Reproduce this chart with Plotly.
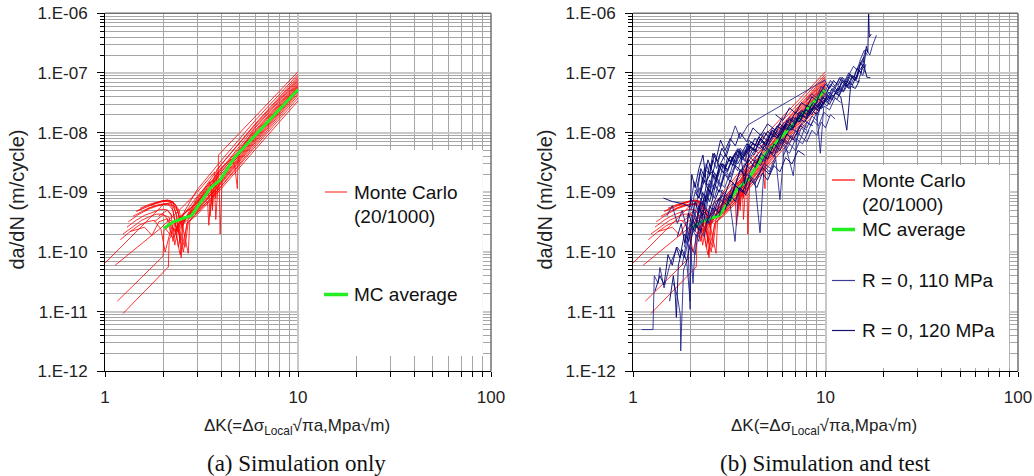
import plotly.graph_objects as go

# ---------------- data ----------------
x_tick_vals = [1, 10, 100]
x_tick_text = ["1", "10", "100"]
y_tick_vals = [1e-12, 1e-11, 1e-10, 1e-9, 1e-8, 1e-7, 1e-6]
y_tick_text = ["1.E-12", "1.E-11", "1.E-10", "1.E-09", "1.E-08", "1.E-07", "1.E-06"]

mc_dk = [
    [1.45, 1.65, 1.85, 2.05, 2.2, 2.32, 2.45, 3.0, 3.6, 3.85, 3.87, 6.0, 10.0],
    [1.0, 2.0, 2.2, 2.35, 2.6, 3.0, 4.0, 6.0, 10.0],
    [1.13, 1.97, 2.15, 2.5, 3.0, 3.7, 3.75, 3.8, 6.0, 10.0],
    [1.46, 1.62, 1.8, 1.98, 2.12, 2.25, 2.33, 2.4, 2.7, 3.0, 4.0, 6.0, 10.0],
    [1.32, 1.5, 1.7, 1.9, 2.1, 2.25, 2.35, 2.45, 2.55, 3.0, 3.5, 3.6, 3.65, 6.0, 10.0],
    [1.52, 1.7, 1.9, 2.1, 2.25, 2.35, 2.5, 3.0, 4.0, 4.5, 4.7, 4.85, 4.9, 6.0, 10.0],
    [1.16, 2.0, 2.02, 2.3, 2.6, 3.0, 4.0, 6.0, 10.0],
    [1.24, 2.13, 2.15, 2.3, 2.45, 2.7, 3.0, 4.0, 6.0, 10.0],
    [1.2, 1.35, 1.5, 1.65, 1.8, 1.95, 2.05, 2.2, 2.5, 3.0, 4.0, 6.0, 10.0],
    [1.24, 1.4, 1.55, 1.7, 1.85, 2.0, 2.1, 2.2, 2.35, 3.0, 3.55, 3.6, 3.7, 6.0, 10.0],
    [1.3, 1.45, 1.6, 1.8, 1.95, 2.1, 2.2, 2.3, 2.4, 3.0, 3.9, 3.95, 4.05, 6.0, 10.0],
    [1.4, 1.55, 1.7, 1.85, 2.0, 2.15, 2.25, 2.35, 2.6, 3.0, 4.0, 6.0, 10.0],
    [1.6, 1.75, 1.9, 2.05, 2.2, 2.32, 2.4, 2.48, 2.55, 3.0, 3.45, 3.5, 3.6, 6.0, 10.0],
    [1.7, 1.85, 2.0, 2.15, 2.3, 2.42, 2.5, 2.7, 2.75, 3.0, 4.0, 6.0, 10.0],
    [1.8, 2.0, 2.15, 2.25, 2.4, 3.0, 3.7, 3.75, 3.85, 6.0, 10.0],
    [1.35, 1.6, 1.75, 1.9, 2.1, 2.3, 2.6, 3.0, 4.0, 6.0, 10.0],
    [1.9, 2.1, 2.3, 2.4, 2.5, 3.0, 4.0, 6.0, 10.0],
    [2.05, 2.25, 2.4, 3.0, 3.4, 3.45, 3.55, 6.0, 10.0],
    [2.15, 2.3, 2.6, 2.7, 3.0, 4.0, 6.0, 10.0],
    [2.2, 2.4, 2.55, 2.65, 3.0, 4.0, 6.0, 10.0],
]
mc_rate = [
    [4.8e-10, 5.9e-10, 6.7e-10, 7.2e-10, 7.1e-10, 6.2e-10, 3.5e-10, 8.5e-10, 1.6e-9, 1.1e-9, 4.2e-9, 1.85e-8, 1.05e-7],
    [6.5e-11, 6.2e-10, 6.8e-10, 2.5e-10, 5e-10, 1.1e-9, 3.4e-9, 1.6e-8, 9.5e-8],
    [6e-11, 2.6e-10, 3.5e-10, 5.5e-10, 1.0e-9, 2.2e-9, 8e-10, 2.4e-9, 1.4e-8, 8.8e-8],
    [4.8e-10, 5.6e-10, 6.4e-10, 7.2e-10, 7.4e-10, 6.8e-10, 4.5e-10, 2.2e-10, 4.5e-10, 8e-10, 2.9e-9, 1.35e-8, 8.2e-8],
    [3.2e-10, 4.3e-10, 5.3e-10, 6.0e-10, 6.4e-10, 5.9e-10, 4.2e-10, 1.4e-10, 3e-10, 7.5e-10, 1.5e-9, 6e-10, 1.7e-9, 1.25e-8, 7.8e-8],
    [5.4e-10, 6.3e-10, 7.0e-10, 7.4e-10, 7.0e-10, 5.5e-10, 2.8e-10, 7e-10, 2.6e-9, 3.6e-9, 2.8e-9, 1.15e-9, 4.6e-9, 1.2e-8, 7.4e-8],
    [1.5e-11, 8.5e-11, 2.3e-10, 3.2e-10, 4.5e-10, 6.8e-10, 2.4e-9, 1.1e-8, 7.0e-8],
    [9.3e-12, 5.6e-11, 1.6e-10, 2.5e-10, 9e-11, 3.5e-10, 6.2e-10, 2.2e-9, 1.05e-8, 6.7e-8],
    [1.6e-10, 2.2e-10, 2.8e-10, 3.2e-10, 3.4e-10, 2.4e-10, 1.0e-10, 2.5e-10, 4.2e-10, 6.5e-10, 2.2e-9, 1.0e-8, 6.4e-8],
    [2.0e-10, 2.7e-10, 3.4e-10, 3.9e-10, 4.3e-10, 4.3e-10, 3.6e-10, 2.0e-10, 3.3e-10, 6.8e-10, 1.3e-9, 5e-10, 1.5e-9, 9.5e-9, 6.1e-8],
    [2.6e-10, 3.4e-10, 4.1e-10, 4.8e-10, 5.2e-10, 5.1e-10, 4.3e-10, 1.3e-10, 2.8e-10, 6.2e-10, 1.7e-9, 2e-10, 1.9e-9, 9e-9, 5.9e-8],
    [4.0e-10, 4.8e-10, 5.5e-10, 6.0e-10, 6.3e-10, 6.1e-10, 5.0e-10, 2.3e-10, 3.6e-10, 6.0e-10, 1.8e-9, 8.8e-9, 5.7e-8],
    [5.0e-10, 5.7e-10, 6.2e-10, 6.5e-10, 6.4e-10, 5.6e-10, 4.5e-10, 8e-11, 3.2e-10, 5.8e-10, 1.0e-9, 4e-10, 1.1e-9, 8.4e-9, 5.5e-8],
    [6.0e-10, 6.6e-10, 7.0e-10, 7.0e-10, 6.4e-10, 5.0e-10, 3e-10, 9.5e-11, 3.3e-10, 5.5e-10, 1.6e-9, 8e-9, 5.2e-8],
    [3.2e-10, 4.2e-10, 3.8e-10, 1.5e-10, 3e-10, 5.2e-10, 1.1e-9, 3.5e-10, 1.3e-9, 7.6e-9, 5.0e-8],
    [2.2e-10, 2.6e-10, 1.9e-10, 3.2e-10, 3.6e-10, 2.2e-10, 3.8e-10, 5.0e-10, 1.45e-9, 7.2e-9, 4.8e-8],
    [4e-10, 5e-10, 3.5e-10, 1.2e-10, 2.8e-10, 4.8e-10, 1.4e-9, 6.8e-9, 4.5e-8],
    [2.5e-10, 1.7e-10, 3.0e-10, 4.6e-10, 7e-10, 2.8e-10, 8e-10, 6.3e-9, 4.2e-8],
    [3.5e-10, 3.0e-10, 1.2e-10, 3.2e-10, 4.5e-10, 1.25e-9, 5.8e-9, 3.8e-8],
    [2.5e-10, 2.2e-10, 1.0e-10, 3e-10, 4.2e-10, 1.15e-9, 5.2e-9, 3.4e-8],
]

avg_dk = [2.02, 2.26, 2.5, 2.81, 3.1, 3.5, 3.94, 4.72, 6.0, 8.0, 10.0]
avg_rate = [2.5e-10, 3.2e-10, 3.6e-10, 4.1e-10, 6.5e-10, 1.16e-9, 1.6e-9, 3.9e-9, 9.0e-9, 2.45e-8, 5.3e-8]

t110_dk = [
    [1.11, 1.15, 1.27, 1.29, 1.35, 1.38, 1.45, 1.55, 1.7, 1.85, 2.0, 2.15, 2.3, 2.5, 2.7, 3.0],
    [1.62, 1.7, 1.76, 1.77, 1.83, 1.9, 1.98, 2.0, 2.1, 2.2, 2.35, 2.5, 2.7, 2.9, 3.2, 3.5],
    [1.8, 1.9, 2.0, 2.05, 2.12, 2.2, 2.3, 2.45, 2.6, 2.75, 2.9, 3.1, 3.3, 3.6, 3.9, 4.3, 4.8, 5.2],
    [2.0, 2.1, 2.2, 2.35, 2.5, 2.6, 2.75, 2.9, 3.1, 3.3, 3.5, 3.8, 4.1, 4.5, 4.9, 5.4, 6.0, 6.6, 7.2],
    [3.0, 3.4, 3.6, 3.96, 9.9, 10.3],
    [2.8, 3.0, 3.2, 3.39, 3.55, 3.8, 4.0, 4.3, 4.57, 4.8, 5.1, 5.5, 5.8, 6.1, 6.5, 7.0, 7.6, 8.2],
    [4.0, 4.3, 4.6, 5.0, 5.4, 5.8, 6.2, 6.8, 7.2, 7.8, 8.4, 9.0, 9.4, 9.8, 10.5, 11.2, 12.0],
    [6.0, 6.5, 7.0, 7.5, 8.0, 8.6, 9.2, 9.8, 10.4, 11.0, 11.7, 12.4, 13.2, 14.0, 14.8, 15.5, 16.2],
    [10.0, 10.6, 11.2, 11.8, 12.5, 13.2, 14.0, 14.8, 15.5, 16.2, 17.0, 17.5, 18.4],
    [7.0, 7.5, 8.0, 8.5, 9.0, 9.35, 9.7, 10.2, 10.8, 11.5, 12.0],
    [1.85, 1.92, 1.98, 2.0, 2.08, 2.15, 2.25, 2.35, 2.5, 2.65, 2.8, 3.0, 3.2],
    [1.5, 1.6, 1.7, 1.8, 1.9, 2.0, 2.1, 2.2, 2.35, 2.5, 2.65, 2.8],
    [3.5, 3.8, 4.1, 4.4, 4.8, 5.2, 5.6, 6.0, 6.5, 7.0, 7.5, 8.0, 8.6],
    [8.0, 8.5, 9.0, 9.5, 10.0, 10.6, 11.2, 11.9, 12.6, 13.3, 14.0, 14.6, 15.2, 15.9, 16.5],
    [2.2, 2.3, 2.4, 2.5, 2.6, 2.7, 2.85, 3.0, 3.15, 3.3, 3.5, 3.7, 3.9, 4.2, 4.5],
    [2.5, 2.65, 2.8, 2.95, 3.1, 3.25, 3.4, 3.6, 3.8, 4.0, 4.25, 4.5, 4.8, 5.1],
    [4.8, 5.1, 5.4, 5.8, 6.2, 6.6, 7.0, 7.5, 8.0, 8.6, 9.2, 9.8, 10.5],
    [2.0, 2.08, 2.16, 2.24, 2.32, 2.4, 2.5, 2.6, 2.72, 2.85, 3.0],
    [5.8, 6.2, 6.6, 7.0, 7.4, 7.9, 8.4, 9.0, 9.6, 10.2, 10.9, 11.6, 12.4, 13.2, 14.0],
    [3.0, 3.2, 3.4, 3.6, 3.8, 4.0, 4.3, 4.6, 4.9, 5.3, 5.7, 6.1],
    [12.0, 12.6, 13.2, 13.8, 14.4, 15.0, 15.6, 16.2],
    [1.95, 2.05, 2.15, 2.25, 2.35, 2.45, 2.55, 2.7, 2.85, 3.0, 3.2, 3.4],
    [6.0, 6.5, 7.0, 7.5, 8.0, 8.5, 9.0, 9.5, 10.0, 10.6, 11.2],
]
t110_rate = [
    [5e-12, 5e-12, 5e-12, 4e-11, 3e-11, 5.5e-11, 2.5e-11, 6e-11, 1.2e-10, 8e-11, 2.5e-10, 1.8e-10, 4.5e-10, 3e-10, 7e-10, 9e-10],
    [3e-11, 1.8e-11, 9e-12, 2.2e-12, 5e-11, 7e-11, 1.5e-11, 1.2e-10, 9e-11, 2.5e-10, 1.8e-10, 6e-10, 4e-10, 1.1e-9, 8e-10, 1.8e-9],
    [6e-11, 1.5e-10, 1e-10, 3e-11, 2e-10, 1.5e-10, 4e-10, 3e-10, 6e-10, 5e-10, 9e-10, 7e-10, 1.4e-9, 1.1e-9, 2e-9, 1.6e-9, 3e-9, 2.5e-9],
    [5e-10, 1e-9, 8e-10, 1.6e-9, 1.2e-9, 2.3e-9, 1.8e-9, 3e-9, 2.2e-9, 3.8e-9, 3e-9, 5e-9, 4e-9, 6.5e-9, 5e-9, 9e-9, 7e-9, 1.2e-8, 1e-8],
    [4e-9, 1.3e-8, 8e-9, 1.35e-8, 7.6e-8, 6e-8],
    [4e-10, 8e-10, 6e-10, 1.5e-10, 1.2e-9, 1e-9, 2e-9, 1.5e-9, 2.1e-10, 2.8e-9, 2.2e-9, 4e-9, 7.5e-10, 5.5e-9, 4.5e-9, 8e-9, 6.5e-9, 1.1e-8],
    [2e-9, 3.5e-9, 2.8e-9, 5e-9, 4e-9, 7.5e-9, 6e-9, 1.9e-9, 1.2e-8, 1.6e-8, 1.3e-8, 2.2e-8, 4.5e-9, 2.8e-8, 2.4e-8, 3.8e-8, 3.2e-8],
    [1.2e-8, 1.8e-8, 1.5e-8, 2.4e-8, 2e-8, 3.2e-8, 2.7e-8, 4.2e-8, 3.6e-8, 5.5e-8, 4.6e-8, 6.5e-8, 5.5e-8, 8e-8, 7e-8, 1.2e-7, 1e-7],
    [4e-8, 6.5e-8, 5.5e-8, 8e-8, 7e-8, 1e-7, 8.5e-8, 1.3e-7, 1.5e-7, 2.5e-7, 2e-7, 2.8e-7, 4.3e-7],
    [9e-9, 1.4e-8, 1.2e-8, 1.9e-8, 1.6e-8, 2.5e-8, 3.2e-8, 2.8e-8, 4.2e-8, 3.6e-8, 5e-8],
    [1.2e-10, 2.5e-10, 1.1e-11, 1.5e-10, 4e-10, 3e-10, 7e-10, 5e-10, 1.1e-9, 8e-10, 1.5e-9, 1.2e-9, 2.2e-9],
    [4e-10, 6e-10, 3e-10, 5e-10, 2.5e-10, 8e-10, 4e-10, 1.2e-9, 7e-10, 1.6e-9, 1.1e-9, 2.2e-9],
    [1.8e-9, 3e-9, 2.4e-9, 4.2e-9, 3.3e-9, 5.8e-9, 4.6e-9, 8e-9, 6.5e-9, 1.1e-8, 8.5e-9, 1.5e-8, 1.3e-8],
    [3.5e-8, 4.5e-8, 3.8e-8, 6e-8, 5e-8, 7.5e-8, 6e-8, 8.5e-8, 7e-8, 9.5e-8, 1.3e-7, 1.1e-7, 1.7e-7, 2.4e-7, 2e-7],
    [3e-10, 7e-10, 5e-10, 1.1e-9, 8e-10, 1.6e-9, 1.2e-9, 2.2e-9, 1.7e-9, 3e-9, 2.3e-9, 4e-9, 3.2e-9, 5.5e-9, 4.5e-9],
    [9e-10, 2.1e-9, 1.5e-9, 3e-9, 2.3e-9, 3.6e-9, 2.7e-9, 4.5e-9, 3.3e-9, 5.4e-9, 4.2e-9, 6.6e-9, 5.1e-9, 7.8e-9],
    [3e-9, 5e-9, 4e-9, 7e-9, 5.5e-9, 9e-9, 7e-9, 1.2e-8, 9.5e-9, 1.6e-8, 1.3e-8, 2.2e-8, 1.8e-8],
    [7e-10, 1.5e-9, 1e-9, 2.2e-9, 1.4e-9, 3e-9, 2e-9, 3.5e-9, 2.5e-9, 4.5e-9, 3.5e-9],
    [8e-9, 1.3e-8, 1.1e-8, 1.8e-8, 1.5e-8, 2.5e-8, 2.1e-8, 3.3e-8, 2.8e-8, 4.3e-8, 3.7e-8, 5.5e-8, 4.8e-8, 6.8e-8, 6e-8],
    [2.5e-9, 4e-9, 3.2e-9, 5.5e-9, 4.5e-9, 7.5e-9, 6e-9, 9.5e-9, 7.5e-9, 1.2e-8, 1e-8, 1.5e-8],
    [5e-8, 7e-8, 6e-8, 8.5e-8, 7.5e-8, 1.1e-7, 9e-8, 1.4e-7],
    [2.5e-10, 5e-10, 3.5e-10, 8e-10, 6e-10, 1.2e-9, 9e-10, 1.8e-9, 1.3e-9, 2.4e-9, 1.8e-9, 3e-9],
    [4e-9, 6.5e-9, 5e-9, 8.5e-9, 7e-9, 1.1e-8, 9e-9, 1.5e-8, 1.2e-8, 2e-8, 1.7e-8],
]

t120_dk = [
    [1.55, 1.62, 1.65, 1.68, 1.72, 1.8, 1.9, 2.0, 2.1, 2.25, 2.4, 2.6, 2.8, 3.1, 3.4],
    [1.44, 1.6, 1.8, 1.98, 2.02, 2.1, 2.2, 2.31, 2.4, 2.55, 2.7, 2.9, 3.1, 3.4, 3.7, 4.0, 4.4],
    [1.9, 2.0, 2.1, 2.2, 2.3, 2.4, 2.5, 2.65, 2.8, 3.0, 3.2, 3.4, 3.7, 4.0, 4.4, 4.8, 5.3, 5.8, 6.3],
    [2.25, 2.35, 2.5, 2.6, 2.7, 2.85, 3.0, 3.2, 3.4, 3.6, 3.9, 4.2, 4.6, 5.0, 5.5, 6.0],
    [2.6, 2.8, 3.0, 3.2, 3.4, 3.6, 3.8, 4.0, 4.3, 4.6, 5.0, 5.4, 5.8, 6.3, 6.8, 7.4, 8.0],
    [3.2, 3.5, 3.8, 4.1, 4.4, 4.8, 5.2, 5.6, 6.0, 6.5, 7.0, 7.6, 8.2, 8.8, 9.5, 10.2, 11.0],
    [5.0, 5.4, 5.8, 6.3, 6.8, 7.4, 8.0, 8.6, 9.2, 9.8, 10.5, 11.2, 12.0, 12.9, 13.5, 14.3, 15.0],
    [9.0, 9.6, 10.2, 10.8, 11.5, 12.2, 13.0, 13.8, 14.5, 15.2, 15.8, 16.3, 16.6, 16.75, 16.9, 17.3],
    [11.0, 11.6, 12.2, 12.8, 13.5, 14.2, 15.0, 15.8, 16.4, 17.1],
    [1.3, 1.38, 1.45, 1.52, 1.6, 1.68, 1.75, 1.85, 1.95, 2.05, 2.15, 2.3, 2.45, 2.6],
    [2.1, 2.2, 2.3, 2.4, 2.5, 2.6, 2.7, 2.8, 3.0, 3.2, 3.5, 3.8, 4.2, 4.6, 5.0],
    [4.5, 4.9, 5.3, 5.8, 6.3, 6.8, 7.3, 7.9, 8.5, 9.1, 9.7, 10.3, 11.0, 11.8, 12.6, 13.4],
    [2.4, 2.6, 2.8, 3.0, 3.2, 3.4, 3.7, 4.0, 4.3, 4.7, 5.1, 5.5],
    [5.5, 6.0, 6.5, 7.0, 7.5, 8.0, 8.5, 9.0, 9.5, 10.0, 10.5],
    [2.3, 2.4, 2.5, 2.6, 2.7, 2.8, 2.95, 3.1, 3.3, 3.5, 3.7, 4.0],
    [3.6, 3.9, 4.2, 4.5, 4.9, 5.3, 5.7, 6.2, 6.7, 7.2, 7.8, 8.4, 9.0, 9.7],
    [6.5, 7.0, 7.5, 8.0, 8.6, 9.2, 9.8, 10.4, 11.0, 11.7, 12.4, 13.1, 13.8, 14.6, 15.4, 16.0],
    [1.7, 1.78, 1.86, 1.94, 2.02, 2.1, 2.2, 2.3, 2.4, 2.5],
    [2.7, 2.85, 3.0, 3.2, 3.4, 3.6, 3.8, 4.05, 4.3, 4.6, 4.9, 5.2, 5.6, 6.0, 6.5],
    [4.0, 4.3, 4.6, 5.0, 5.4, 5.8, 6.3, 6.8, 7.3, 7.9, 8.5, 9.1, 9.7],
    [9.5, 10.0, 10.5, 11.0, 11.6, 12.2, 12.8, 13.4, 14.0, 14.6, 15.3, 15.9],
    [2.15, 2.25, 2.35, 2.45, 2.55, 2.65, 2.75, 2.9, 3.05, 3.2],
    [3.0, 3.2, 3.4, 3.6, 3.85, 4.1, 4.4, 4.7, 5.0, 5.4, 5.8, 6.2, 6.7, 7.2, 7.8],
]
t120_rate = [
    [1.5e-11, 4e-11, 2.5e-11, 8e-12, 6e-11, 1.1e-10, 7e-11, 1.6e-10, 3e-10, 2.2e-10, 5e-10, 4e-10, 8e-10, 6e-10, 1.3e-9],
    [8e-10, 7e-10, 6.5e-10, 5.7e-10, 2e-9, 1.2e-9, 2.5e-9, 4.2e-9, 1.5e-9, 2.2e-9, 1.7e-9, 3e-9, 2.4e-9, 4.5e-9, 3.5e-9, 6e-9, 5e-9],
    [1.5e-10, 3e-10, 2.2e-10, 6e-10, 4e-10, 9e-10, 7e-10, 1.4e-9, 1e-9, 2e-9, 1.5e-9, 2.8e-9, 2.2e-9, 4e-9, 3e-9, 6e-9, 4.5e-9, 8e-9, 6.5e-9],
    [1e-9, 2.5e-9, 2e-9, 4.5e-9, 3.5e-9, 7.5e-9, 5e-9, 8e-9, 6e-9, 1e-8, 7e-9, 1.2e-8, 9e-9, 1.4e-8, 1.1e-8, 1.8e-8],
    [6e-10, 1.1e-9, 9e-10, 1.6e-9, 1.3e-9, 2.4e-9, 1.9e-9, 3.5e-9, 2.6e-9, 4.5e-9, 3.6e-9, 6.5e-9, 5e-9, 9.5e-9, 7.5e-9, 1.3e-8, 1.1e-8],
    [3e-9, 5e-9, 4e-9, 7e-9, 6e-9, 1e-8, 8e-9, 1.3e-8, 1.1e-8, 1.7e-8, 1.4e-8, 2.3e-8, 1.9e-8, 3e-8, 2.5e-8, 4e-8, 3.5e-8],
    [6e-9, 1e-8, 8e-9, 1.4e-8, 1.2e-8, 2e-8, 1.7e-8, 2.7e-8, 2.3e-8, 3.5e-8, 3e-8, 4.6e-8, 4e-8, 1.1e-8, 6e-8, 5.5e-8, 7.5e-8],
    [2.5e-8, 4e-8, 3.5e-8, 5.5e-8, 4.5e-8, 7e-8, 6e-8, 9e-8, 8e-8, 1.5e-7, 1.2e-7, 2.8e-7, 2.2e-7, 1.1e-6, 4e-7, 4.5e-7],
    [6e-8, 5e-8, 7.5e-8, 6.5e-8, 9e-8, 7.5e-8, 1.1e-7, 1.4e-7, 8.5e-8, 8.3e-8],
    [2.2e-11, 4e-11, 2.8e-11, 9e-11, 6e-11, 1.2e-10, 8e-11, 2e-10, 1.5e-10, 3.5e-10, 2.5e-10, 5e-10, 4e-10, 8e-10],
    [1.1e-9, 8e-10, 1.8e-9, 1.3e-9, 3e-9, 2.1e-9, 3.6e-9, 2.7e-9, 4.2e-9, 3.3e-9, 5.4e-9, 4.2e-9, 6.6e-9, 5.4e-9, 7.8e-9],
    [8e-9, 6e-9, 1.1e-8, 9e-9, 1.6e-8, 1.2e-8, 2.2e-8, 1.8e-8, 3e-8, 2.4e-8, 3.8e-8, 3.3e-8, 5e-8, 4.2e-8, 6.5e-8, 5.5e-8],
    [3e-10, 5.5e-10, 4.5e-10, 9e-10, 7e-10, 1.3e-9, 1e-9, 1.8e-9, 1.4e-9, 2.6e-9, 2e-9, 3.5e-9],
    [2e-8, 1.6e-8, 2.6e-8, 2.1e-8, 3.2e-8, 2.7e-8, 4e-8, 3.4e-8, 5e-8, 4.3e-8, 6e-8],
    [6e-10, 1.3e-9, 1e-9, 2e-9, 1.5e-9, 2.8e-9, 2.1e-9, 3.8e-9, 2.8e-9, 5e-9, 3.8e-9, 6.5e-9],
    [4e-9, 6.5e-9, 5e-9, 8.5e-9, 6.5e-9, 1.1e-8, 8.5e-9, 1.4e-8, 1.1e-8, 1.8e-8, 1.5e-8, 2.5e-8, 2e-8, 3.2e-8],
    [1.5e-8, 2.2e-8, 1.8e-8, 2.9e-8, 2.4e-8, 3.7e-8, 3.1e-8, 4.8e-8, 4e-8, 6e-8, 5e-8, 7.5e-8, 6.3e-8, 9.5e-8, 1.6e-7, 1.9e-7],
    [1.8e-10, 3e-10, 1.4e-10, 4.5e-10, 3e-10, 7e-10, 4.5e-10, 1e-9, 7e-10, 1.4e-9],
    [1.8e-9, 3e-9, 2.4e-9, 4e-9, 3e-9, 5e-9, 1.4e-9, 6e-9, 4.8e-9, 8e-9, 6e-9, 1e-8, 8e-9, 1.3e-8, 1.1e-8],
    [5e-9, 8e-9, 6.5e-9, 1.05e-8, 8.5e-9, 1.4e-8, 1.1e-8, 1.8e-8, 1.5e-8, 2.4e-8, 2e-8, 3e-8, 2.6e-8],
    [5e-8, 6.5e-8, 5.5e-8, 7.5e-8, 6.2e-8, 8.5e-8, 7e-8, 9.5e-8, 8e-8, 1.2e-7, 1e-7, 1.8e-7],
    [1.2e-9, 2.5e-9, 1.8e-9, 3.5e-9, 2.5e-9, 4.5e-9, 3.3e-9, 5.5e-9, 4e-9, 6.5e-9],
    [5e-10, 9e-10, 7e-10, 1.2e-9, 9e-10, 1.6e-9, 1.2e-9, 2.1e-9, 1.6e-9, 2.8e-9, 2.2e-9, 3.8e-9, 3e-9, 5e-9, 4.2e-9],
]

# ---------------- styles ----------------
W, H = 1034, 476
RED = "rgba(255,0,0,0.8)"
GREEN = "#22ee22"
NAVY110 = "rgba(30,30,140,0.85)"
NAVY120 = "rgba(0,0,110,0.9)"
SANS = "Liberation Sans, Arial, sans-serif"
SERIF = "Liberation Serif, Times New Roman, serif"

fig = go.Figure()

def add_lines(xs_list, ys_list, color, width, xa, ya):
    for xs, ys in zip(xs_list, ys_list):
        fig.add_trace(go.Scatter(x=xs, y=ys, mode="lines", xaxis=xa, yaxis=ya,
                                 line=dict(color=color, width=width),
                                 showlegend=False, hoverinfo="skip"))

# left panel
add_lines(mc_dk, mc_rate, RED, 1, "x", "y")
add_lines([avg_dk], [avg_rate], GREEN, 3, "x", "y")
# right panel
add_lines(mc_dk, mc_rate, RED, 1, "x2", "y2")
add_lines([avg_dk], [avg_rate], GREEN, 3, "x2", "y2")
add_lines(t110_dk, t110_rate, NAVY110, 1, "x2", "y2")
add_lines(t120_dk, t120_rate, NAVY120, 1, "x2", "y2")

x_minor = [m * 10 ** e for e in range(0, 2) for m in range(2, 10)]
y_minor = [m * 10.0 ** e for e in range(-12, -6) for m in range(2, 10)]

def xaxis(domain, anchor):
    return dict(type="log", range=[0, 2], domain=domain, anchor=anchor,
                automargin=False,
                tickvals=x_tick_vals, ticktext=x_tick_text, ticks="outside",
                ticklen=5, tickcolor="black", showline=True, linecolor="black",
                linewidth=1, showgrid=True, gridcolor="#c8c8c8", gridwidth=2,
                zeroline=False, ticklabelstandoff=5,
                tickfont=dict(family=SANS, size=17, color="#222"),
                minor=dict(tickvals=x_minor, ticks="outside", ticklen=5,
                           tickcolor="black", showgrid=True,
                           gridcolor="#a6a6a6", gridwidth=1))

def yaxis(anchor):
    return dict(type="log", range=[-12, -6], domain=[1 - 371.3 / H, 1 - 13.3 / H],
                anchor=anchor, automargin=False,
                tickvals=y_tick_vals, ticktext=y_tick_text,
                ticks="outside", ticklen=7, tickcolor="black", showline=True,
                linecolor="black", linewidth=1, showgrid=True,
                gridcolor="#c8c8c8", gridwidth=2, zeroline=False,
                ticklabelstandoff=6,
                tickfont=dict(family=SANS, size=17, color="#222"),
                minor=dict(tickvals=y_minor, ticks="outside", ticklen=4,
                           tickcolor="black", showgrid=True,
                           gridcolor="#a6a6a6", gridwidth=1))

shapes = []
annotations = []
for xd, yd, box in (("x domain", "y domain", (0.503, 0.979, 0.043, 0.618)),
                    ("x2 domain", "y2 domain", (0.504, 0.977, 0.009, 0.576))):
    shapes.append(dict(type="line", xref=xd, yref=yd, x0=0, x1=1, y0=1, y1=1,
                       line=dict(color="#707070", width=1.5), layer="above"))
    shapes.append(dict(type="line", xref=xd, yref=yd, x0=1, x1=1, y0=0, y1=1,
                       line=dict(color="#707070", width=1.5), layer="above"))
    shapes.append(dict(type="rect", xref=xd, yref=yd, x0=box[0], x1=box[1],
                       y0=box[2], y1=box[3], fillcolor="white",
                       line=dict(width=0), layer="above"))

def legend_item(x_line0, x_line1, x_text, y_px, color, width, text):
    yp = 1 - y_px / H
    shapes.append(dict(type="line", xref="paper", yref="paper",
                       x0=x_line0 / W, x1=x_line1 / W, y0=yp, y1=yp,
                       line=dict(color=color, width=width), layer="above"))
    annotations.append(dict(text=text, xref="paper", yref="paper",
                            x=x_text / W, y=yp, xanchor="left", yanchor="middle",
                            showarrow=False,
                            font=dict(family=SANS, size=19, color="#111")))

def text_only(x_text, y_px, text):
    annotations.append(dict(text=text, xref="paper", yref="paper",
                            x=x_text / W, y=1 - y_px / H, xanchor="left",
                            yanchor="middle", showarrow=False,
                            font=dict(family=SANS, size=19, color="#111")))

# left legend
legend_item(325, 347, 352, 192, "rgba(255,80,80,0.9)", 1.5, "Monte Carlo")
text_only(352, 216.5, "(20/1000)")
legend_item(324, 348, 352, 294.5, GREEN, 3.5, "MC average")
# right legend
legend_item(832, 855, 860, 180, "red", 1.2, "Monte Carlo")
text_only(860, 204, "(20/1000)")
legend_item(832, 855, 860, 229.5, GREEN, 3.5, "MC average")
legend_item(832, 855, 860, 280.5, "rgb(60,60,150)", 1.2, "R = 0, 110 MPa")
legend_item(832, 855, 860, 330.5, "rgb(20,20,110)", 1.2, "R = 0, 120 MPa")

# axis titles and captions
for cx in (16.5, 544.5):
    annotations.append(dict(text="da/dN (m/cycle)", xref="paper", yref="paper",
                            x=cx / W, y=1 - 200 / H, textangle=-90,
                            xanchor="center", yanchor="middle", showarrow=False,
                            font=dict(family=SANS, size=20, color="#222")))
for cx in (297, 823.5):
    annotations.append(dict(text="ΔK(=Δσ<sub>Local</sub>√πa,Mpa√m)",
                            xref="paper", yref="paper", x=cx / W,
                            y=1 - 426.7 / H, xanchor="center", yanchor="middle",
                            showarrow=False,
                            font=dict(family=SANS, size=17, color="#222")))
for cx, txt in ((296.5, "(a) Simulation only"), (825.5, "(b) Simulation and test")):
    annotations.append(dict(text=txt, xref="paper", yref="paper", x=cx / W,
                            y=1 - 463 / H, xanchor="center", yanchor="middle",
                            showarrow=False, borderpad=0,
                            font=dict(family=SERIF, size=23, color="#111")))

fig.update_layout(
    width=W, height=H, autosize=False,
    margin=dict(l=0, r=0, t=0, b=0, autoexpand=False),
    paper_bgcolor="white", plot_bgcolor="white",
    showlegend=False,
    xaxis=xaxis([105 / W, 491 / W], "y"),
    yaxis=yaxis("x"),
    xaxis2=xaxis([633 / W, 1018 / W], "y2"),
    yaxis2=yaxis("x2"),
    shapes=shapes,
    annotations=annotations,
)

fig.write_html("out.html")
